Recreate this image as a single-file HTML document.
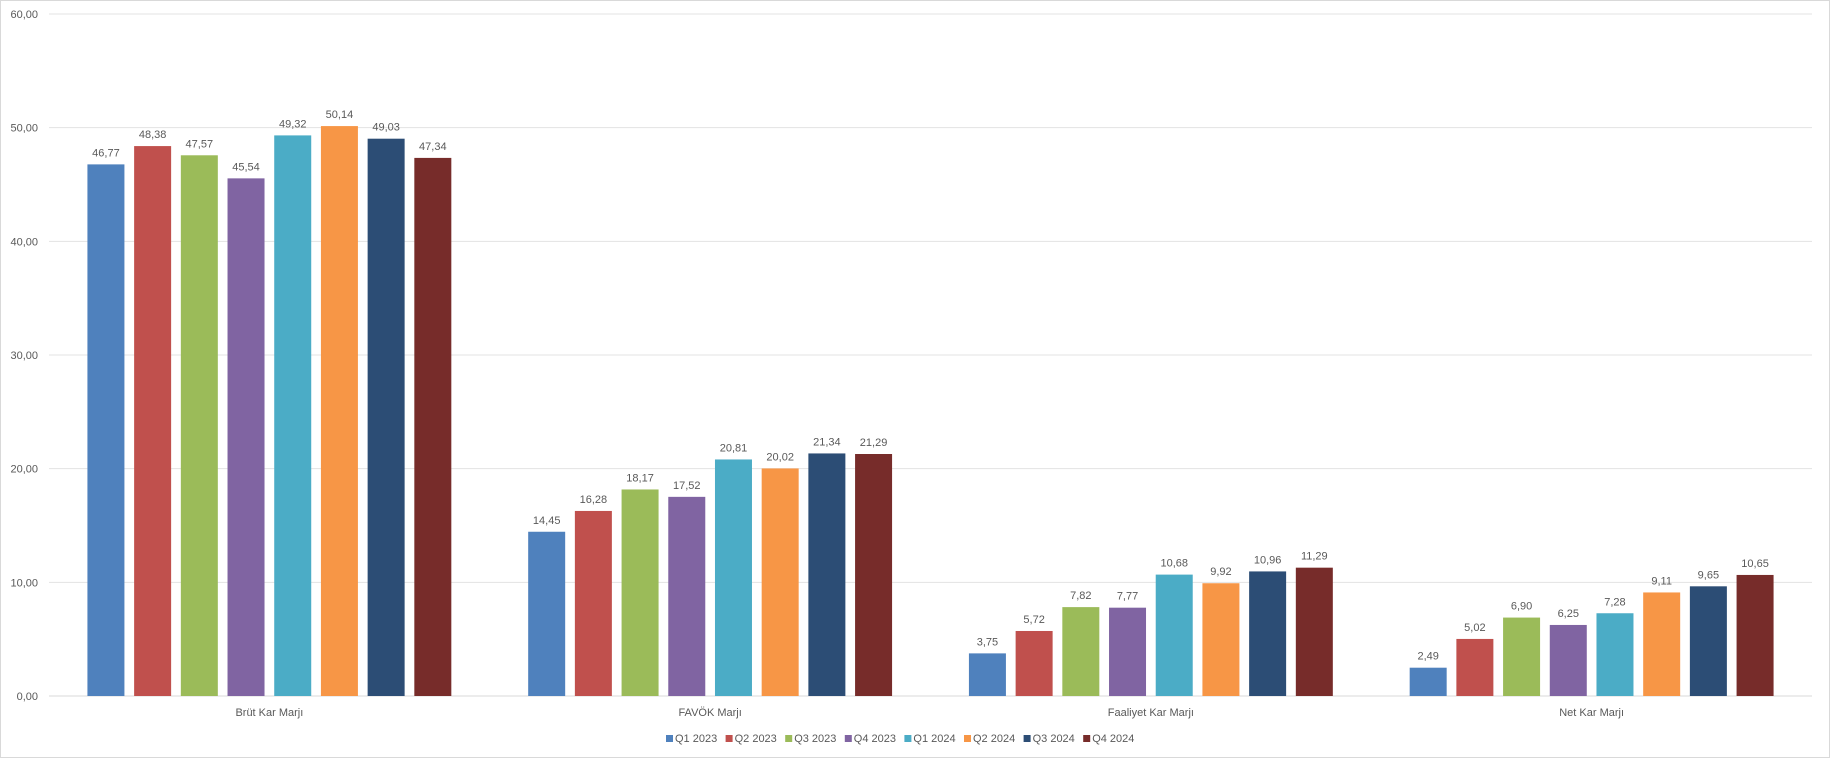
<!DOCTYPE html>
<html><head><meta charset="utf-8"><style>
html,body{margin:0;padding:0;background:#fff}
svg{display:block}
text{font-family:"Liberation Sans",sans-serif;fill:#595959}
</style></head><body>
<svg id="c" width="1830" height="758">
<rect x="0.5" y="0.5" width="1829" height="757" fill="#fff" stroke="#d9d9d9"/>
</svg>
<script>
const categories = ["Brüt Kar Marjı","FAVÖK Marjı","Faaliyet Kar Marjı","Net Kar Marjı"];
const seriesNames = ["Q1 2023","Q2 2023","Q3 2023","Q4 2023","Q1 2024","Q2 2024","Q3 2024","Q4 2024"];
const q1_2023 = [46.77,14.45,3.75,2.49];
const q2_2023 = [48.38,16.28,5.72,5.02];
const q3_2023 = [47.57,18.17,7.82,6.90];
const q4_2023 = [45.54,17.52,7.77,6.25];
const q1_2024 = [49.32,20.81,10.68,7.28];
const q2_2024 = [50.14,20.02,9.92,9.11];
const q3_2024 = [49.03,21.34,10.96,9.65];
const q4_2024 = [47.34,21.29,11.29,10.65];
const yTicks = [0,10,20,30,40,50,60];
const seriesValues = [q1_2023,q2_2023,q3_2023,q4_2023,q1_2024,q2_2024,q3_2024,q4_2024];
const colors = ["#4F81BD","#C0504D","#9BBB59","#8064A2","#4BACC6","#F79646","#2C4D75","#772C2A"];

const svg = document.getElementById('c');
const NS = "http://www.w3.org/2000/svg";
const L=49, R=1812, Y0=696, YT=14, YMAX=60;
const y = v => Y0 - v/YMAX*(Y0-YT);
const catW = (R-L)/categories.length;
const pitch = 46.7, bw = 37;
const x = (ci,si) => L + catW*ci + catW/2 - (seriesNames.length*pitch - (pitch-bw))/2 + si*pitch;
const fmt = v => v.toFixed(2).replace('.',',');
function mk(tag, attrs, txt){const e=document.createElementNS(NS,tag);for(const k in attrs)e.setAttribute(k,attrs[k]);if(txt!==undefined)e.textContent=txt;svg.appendChild(e);return e;}

yTicks.forEach(t=>{
  const g = mk('line',{x1:L,x2:R,y1:y(t),y2:y(t),stroke:t===0?'#d9d9d9':'#e3e3e3','stroke-width':1});
  
  
  const l = mk('text',{x:38,y:y(t)+4,'font-size':11,'text-anchor':'end'},fmt(t));
  
  
});
seriesValues.forEach((vals,si)=>{
  vals.forEach((v,ci)=>{
    const r = mk('rect',{x:x(ci,si),y:y(v),width:bw,height:Y0-y(v),fill:colors[si]});
    
    
    const t = mk('text',{x:x(ci,si)+bw/2,y:y(v)-8,'font-size':11,'text-anchor':'middle'},fmt(v));
    
    
  });
});
categories.forEach((c,ci)=>{
  const t = mk('text',{x:L+catW*ci+catW/2,y:716,'font-size':11,'text-anchor':'middle'},c);
  
  
});
seriesNames.forEach((n,si)=>{
  const lx = 666 + si*59.6;
  const s = mk('rect',{x:lx,y:735,width:7,height:7,fill:colors[si]});
  
  
  const t = mk('text',{x:lx+9,y:742,'font-size':11},n);
  
  
});
</script>
</body></html>
